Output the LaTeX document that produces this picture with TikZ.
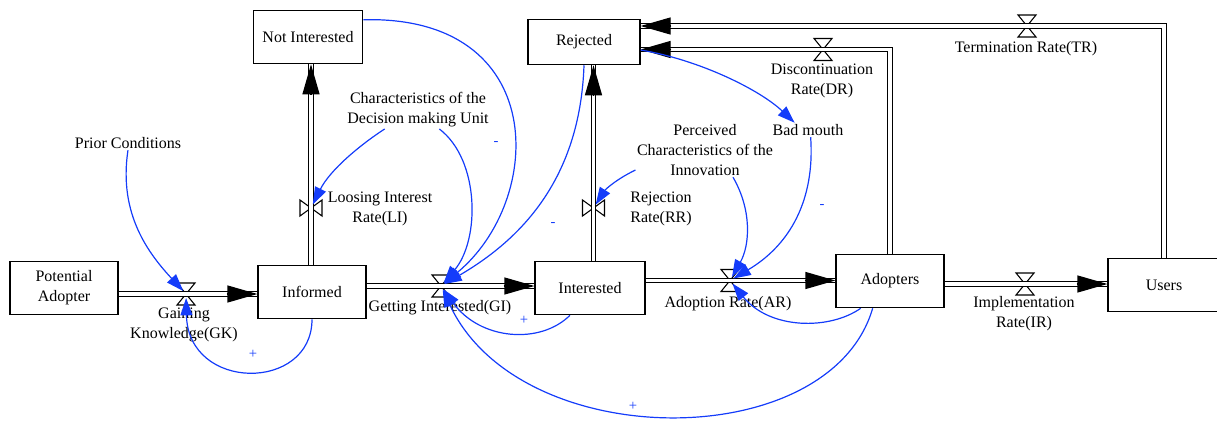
\documentclass[tikz,border=0pt]{standalone}
\usepackage{fontspec}
\setmainfont{Liberation Serif}
\usetikzlibrary{arrows.meta}
\definecolor{linkblue}{RGB}{20,60,250}

\begin{document}
\begin{tikzpicture}[x=0.75pt, y=-0.75pt, font=\fontsize{12}{15}\selectfont]
    \tikzset{stock/.style = {draw, line width=0.9pt, rectangle, align=center, minimum width=81pt, minimum height=40pt},
             pipe/.style = {double, double distance=2.3pt, line width=0.9pt},
             flowhead/.style = {-{Triangle[length=22.5pt, width=12.75pt]}, line width=0.9pt},
             link/.style = {draw=linkblue, line width=0.9pt, -{Triangle[length=13pt, width=9pt]}, shorten >=3pt},
             aux/.style = {align=center, inner sep=1pt},
             sign/.style = {text=linkblue, font=\fontsize{11}{11}\selectfont, inner sep=0pt},
             hourglass/.pic = {\draw[line width=0.8pt] (-6.75pt,8.25pt) -- (6.75pt,8.25pt) -- (-6.75pt,-8.25pt) -- (6.75pt,-8.25pt) -- cycle;},
             bowtie/.pic = {\draw[line width=0.8pt] (-8.25pt,6pt) -- (-8.25pt,-6pt) -- (8.25pt,6pt) -- (8.25pt,-6pt) -- cycle;}
            }
    \useasboundingbox (0,0) rectangle (1217,421);
    \node (pa) [stock] at (64,288) {Potential\\Adopter};
    \node (informed) [stock] at (312,292) {Informed};
    \node (notint) [stock, minimum width=82pt] at (308,37) {Not Interested};
    \node (rejected) [stock, minimum width=84pt, minimum height=34pt] at (584,42) {Rejected};
    \node (interested) [stock, minimum width=82.5pt] at (590,288) {Interested};
    \node (adopters) [stock] at (890,281) {Adopters};
    \node (users) [stock, minimum width=84pt] at (1164,285) {Users};

    \node (prior) [aux] at (128,143) {Prior Conditions};
    \node (cdmu) [aux] at (418,110) {Characteristics of the\\Decision making Unit};
    \node (pci) [aux] at (705,150) {Perceived\\Characteristics of the\\Innovation};
    \node (badmouth) [aux] at (808,130) {Bad mouth};

    \path (186,294) coordinate (gk) pic {hourglass};
    \path (311,208) coordinate (li) pic {bowtie};
    \path (441,286) coordinate (gi) pic {hourglass};
    \path (593.5,208) coordinate (rr) pic {bowtie};
    \path (730,280.5) coordinate (ar) pic {hourglass};
    \path (1025,284) coordinate (ir) pic {hourglass};
    \path (823,49.5) coordinate (dr) pic {hourglass};
    \path (1027,26) coordinate (tr) pic {hourglass};

    \node (gklabel) [aux] at (184,325) {Gaining\\Knowledge(GK)};
    \node (lilabel) [aux] at (380,209) {Loosing Interest\\Rate(LI)};
    \node (gilabel) [aux] at (440,308) {Getting Interested(GI)};
    \node (rrlabel) [aux] at (661,209) {Rejection\\Rate(RR)};
    \node (arlabel) [aux] at (728,304) {Adoption Rate(AR)};
    \node (irlabel) [aux] at (1024,314) {Implementation\\Rate(IR)};
    \node (drlabel) [aux] at (822,81) {Discontinuation\\Rate(DR)};
    \node (trlabel) [aux] at (1026,49) {Termination Rate(TR)};

    \draw[pipe] (pa.east |- gk) -- (informed.west |- gk);
    \draw[flowhead] ([xshift=-23pt]informed.west |- gk) -- (informed.west |- gk);
    \draw[pipe] (informed.north -| li) -- (notint.south -| li);
    \draw[flowhead] ([yshift=-23pt]notint.south -| li) -- (notint.south -| li);
    \draw[pipe] (informed.east |- gi) -- (interested.west |- gi);
    \draw[flowhead] ([xshift=-23pt]interested.west |- gi) -- (interested.west |- gi);
    \draw[pipe] (interested.north -| rr) -- (rejected.south -| rr);
    \draw[flowhead] ([yshift=-23pt]rejected.south -| rr) -- (rejected.south -| rr);
    \draw[pipe] (interested.east |- ar) -- (adopters.west |- ar);
    \draw[flowhead] ([xshift=-23pt]adopters.west |- ar) -- (adopters.west |- ar);
    \draw[pipe] (adopters.east |- ir) -- (users.west |- ir);
    \draw[flowhead] ([xshift=-23pt]users.west |- ir) -- (users.west |- ir);
    \draw[pipe] (adopters.north) |- (rejected.east |- dr);
    \draw[flowhead] ([xshift=23pt]rejected.east |- dr) -- (rejected.east |- dr);
    \draw[pipe] (users.north) |- (rejected.east |- tr);
    \draw[flowhead] ([xshift=23pt]rejected.east |- tr) -- (rejected.east |- tr);

    \draw[link] (prior.south) .. controls (118,215) and (150,255) .. (gk);
    \draw[link] (informed.south) .. controls (312,392) and (188,392) .. (gk);
    \draw[link] ([xshift=-25pt]cdmu.south) .. controls (360,145) and (330,170) .. (li);
    \draw[link] ([xshift=16pt]cdmu.south) .. controls (480,160) and (480,240) .. (gi);
    \draw[link] ([yshift=-7.5pt]notint.north east) .. controls (550,15) and (545,200) .. (gi);
    \draw[link] (rejected.south) .. controls (580,180) and (520,240) .. (gi);
    \draw[link] ([xshift=-15pt]interested.south) .. controls (540,345) and (480,340) .. (gi);
    \draw[link] ([xshift=-13pt]adopters.south) .. controls (830,455) and (520,455) .. (gi);
    \draw[link, shorten >=0pt] ([yshift=-6pt]rejected.east) .. controls (700,60) and (760,90) .. ([xshift=-10pt]badmouth.north);
    \draw[link] ([yshift=-15pt]pci.west) .. controls (615,180) and (605,190) .. (rr);
    \draw[link] ([xshift=21pt]pci.south) .. controls (752,210) and (750,245) .. (ar);
    \draw[link] ([xshift=2pt]badmouth.south) .. controls (815,200) and (790,245) .. (ar);
    \draw[link] ([xshift=-22pt]adopters.south) .. controls (830,330) and (770,330) .. (ar);

    \node (pgk) [sign] at (253,354) {+};
    \node (mni) [sign] at (496,143) {-};
    \node (mrj) [sign] at (553,224) {-};
    \node (pin) [sign] at (524,320) {+};
    \node (pad) [sign] at (633,406) {+};
    \node (mbm) [sign] at (822,206) {-};
\end{tikzpicture}
\end{document}
